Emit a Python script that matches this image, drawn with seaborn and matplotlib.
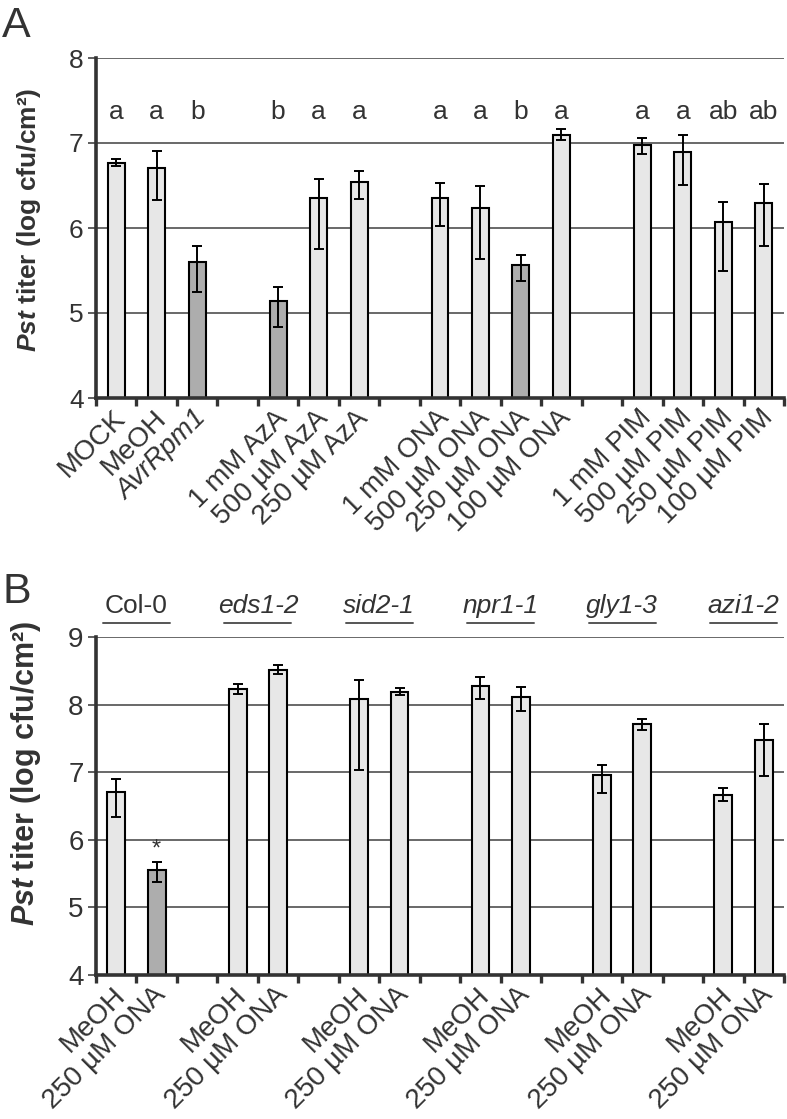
import numpy as np
import pandas as pd
import matplotlib
matplotlib.use("Agg")
import matplotlib.pyplot as plt
import matplotlib.transforms as mtransforms
import seaborn as sns

# ---------------- Panel A data ----------------
a_labels = ["MOCK", "MeOH", "AvrRpm1", "1 mM AzA", "500 µM AzA", "250 µM AzA",
            "1 mM ONA", "500 µM ONA", "250 µM ONA", "100 µM ONA",
            "1 mM PIM", "500 µM PIM", "250 µM PIM", "100 µM PIM"]
a_groups = [3, 3, 4, 4]
a_mean = [6.77, 6.71, 5.60, 5.14, 6.35, 6.54, 6.35, 6.24, 5.56, 7.09, 6.98, 6.90, 6.07, 6.30]
a_upper = [6.81, 6.91, 5.79, 5.31, 6.58, 6.67, 6.53, 6.49, 5.68, 7.16, 7.06, 7.10, 6.31, 6.52]
a_lower = [6.73, 6.33, 5.25, 4.84, 5.75, 6.34, 6.02, 5.64, 5.38, 7.03, 6.87, 6.51, 5.50, 5.79]
a_letters = ["a", "a", "b", "b", "a", "a", "a", "a", "b", "a", "a", "a", "ab", "ab"]
a_shade = ["light", "light", "dark", "dark", "light", "light",
           "light", "light", "dark", "light", "light", "light", "light", "light"]

# ---------------- Panel B data ----------------
b_genotypes = ["Col-0", "eds1-2", "sid2-1", "npr1-1", "gly1-3", "azi1-2"]
b_treatments = ["MeOH", "250 µM ONA"]
b_mean = [6.71, 5.55, 8.23, 8.51, 8.08, 8.19, 8.28, 8.11, 6.96, 7.71, 6.67, 7.47]
b_upper = [6.90, 5.67, 8.31, 8.58, 8.36, 8.24, 8.41, 8.26, 7.11, 7.78, 6.76, 7.71]
b_lower = [6.33, 5.37, 8.15, 8.45, 7.03, 8.14, 8.09, 7.90, 6.69, 7.62, 6.57, 6.95]
b_shade = ["light", "dark"] + ["light"] * 10
b_star = ["", "*"] + [""] * 10

sns.set_theme(style="white")
plt.rcParams["font.family"] = ["Liberation Sans", "DejaVu Sans"]
plt.rcParams["mathtext.fontset"] = "custom"
plt.rcParams["mathtext.it"] = "Liberation Sans:italic:bold"
plt.rcParams["mathtext.rm"] = "Liberation Sans:bold"

TXT = "#333333"
PAL = {"light": "#e7e7e7", "dark": "#adadad"}


def slot_positions(sizes):
    pos, s = [], 0
    for n in sizes:
        pos += list(range(s, s + n))
        s += n + 1
    return pos, s - 1


fig = plt.figure(figsize=(7.87, 11.19), dpi=100)
W, H = 787, 1119
axA = fig.add_axes([96 / W, (H - 398) / H, 688 / W, 340 / H])
axB = fig.add_axes([96 / W, (H - 975) / H, 688 / W, 338 / H])


def draw(ax, labels, means, lo, hi, shade, sizes, ylim, width,
         tick_fs, xlab_fs, ylab_fs, ylab_xy, xoff, pad):
    pos, nslots = slot_positions(sizes)
    df = pd.DataFrame({"pos": pos, "val": means, "shade": shade})
    sns.barplot(data=df, x="pos", y="val", hue="shade", palette=PAL,
                native_scale=True, dodge=False, width=width, errorbar=None,
                edgecolor="black", linewidth=1.5, legend=False, ax=ax, zorder=3)
    m = np.array(means)
    ax.errorbar(pos, m, yerr=[m - np.array(lo), np.array(hi) - m], fmt="none",
                ecolor="black", elinewidth=1.4, capsize=3.6, capthick=1.4, zorder=5)
    ax.set_ylim(*ylim)
    ax.set_yticks(np.arange(ylim[0], ylim[1] + 1))
    ax.set_xlim(-0.5, nslots - 0.5)
    ax.set_xticks(pos)
    ax.set_xticklabels(labels, rotation=45, ha="right", rotation_mode="anchor",
                       fontsize=xlab_fs, color=TXT)
    ax.set_xticks(np.arange(-0.5, nslots), minor=True)
    ax.tick_params(axis="x", which="major", length=0, pad=pad)
    ax.tick_params(axis="x", which="minor", length=6, width=2.4, color="#333333",
                   direction="out", bottom=True)
    ax.tick_params(axis="y", length=6, width=1.1, color="#333333", direction="out",
                   left=True, labelsize=tick_fs, labelcolor=TXT, pad=3)
    ax.yaxis.grid(True, color="#404040", lw=1.1)
    ax.xaxis.grid(False)
    ax.set_axisbelow(True)
    for s in ["top", "right"]:
        ax.spines[s].set_visible(False)
    for s in ["left", "bottom"]:
        ax.spines[s].set_linewidth(2.6)
        ax.spines[s].set_color("#333333")
        ax.spines[s].set_zorder(6)
    ax.set_xlabel("")
    ax.set_ylabel("$\\mathit{Pst}$ titer (log cfu/cm²)", fontsize=ylab_fs,
                  fontweight="bold", color=TXT)
    ax.yaxis.set_label_coords(*ylab_xy)
    off = mtransforms.ScaledTranslation(xoff / 100, 0, fig.dpi_scale_trans)
    for lbl in ax.get_xticklabels():
        lbl.set_transform(lbl.get_transform() + off)
    return pos


posA = draw(axA, a_labels, a_mean, a_lower, a_upper, a_shade, a_groups, (4, 8), 0.42,
            19, 20, 19, (-0.077, 0.524), -4, 5)
axA.get_xticklabels()[2].set_style("italic")
for p, l in zip(posA, a_letters):
    axA.text(p, 7.37, l, ha="center", va="center", fontsize=19, color=TXT)

b_labels = [t for g in b_genotypes for t in b_treatments]
posB = draw(axB, b_labels, b_mean, b_lower, b_upper, b_shade, [2] * len(b_genotypes),
            (4, 9), 0.44, 20, 20, 22, (-0.077, 0.598), -4, 5)
for p, s, h in zip(posB, b_star, b_upper):
    if s:
        axB.text(p, h + 0.03, s, ha="center", va="bottom", fontsize=17, color=TXT)
blend = mtransforms.blended_transform_factory(axB.transData, axB.transAxes)
for i, g in enumerate(b_genotypes):
    c = (posB[2 * i] + posB[2 * i + 1]) / 2
    axB.text(c, 1.071, g, transform=blend, ha="center", va="baseline", fontsize=19,
             color=TXT, style="normal" if g == "Col-0" else "italic")
    axB.plot([c - 0.83, c + 0.83], [1.041, 1.041], transform=blend, clip_on=False,
             color="#555555", lw=1.4)

fig.text(2 / W, 1 - 37 / H, "A", fontsize=31, color=TXT, va="baseline", ha="left")
fig.text(3 / W, 1 - 603 / H, "B", fontsize=31, color=TXT, va="baseline", ha="left")

fig.savefig("out.png", dpi=100)
